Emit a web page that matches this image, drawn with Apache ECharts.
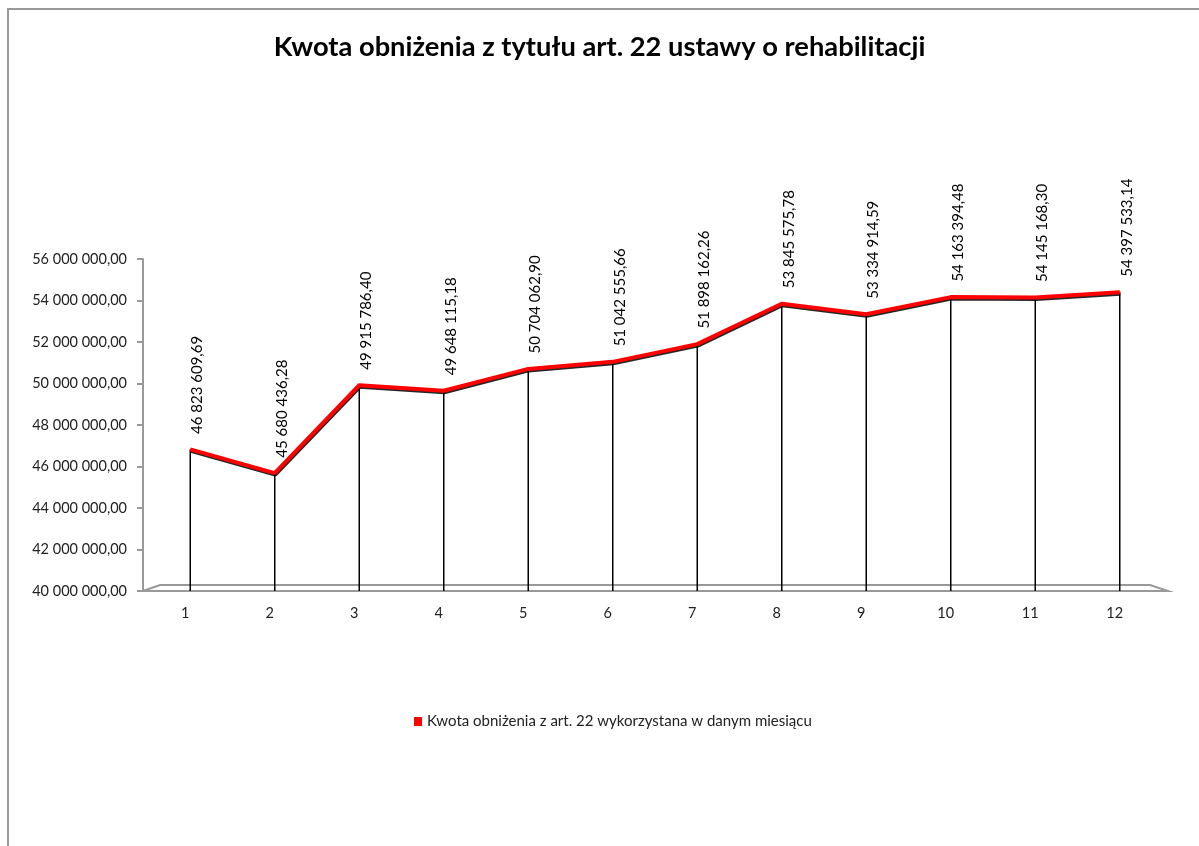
<!DOCTYPE html>
<html>
<head>
<meta charset="utf-8">
<script src="https://cdn.jsdelivr.net/npm/echarts@6/dist/echarts.min.js"></script>
<style>
  html, body { margin: 0; padding: 0; background: #fff; }
  #main { width: 1199px; height: 846px; }
</style>
</head>
<body>
<div id="main"></div>
<script>
// dane z wykresu
var months = ['1', '2', '3', '4', '5', '6', '7', '8', '9', '10', '11', '12'];
var kwoty = [46823609.69, 45680436.28, 49915786.40, 49648115.18, 50704062.90, 51042555.66,
  51898162.26, 53845575.78, 53334914.59, 54163394.48, 54145168.30, 54397533.14];
var seriesName = 'Kwota obniżenia z art. 22 wykorzystana w danym miesiącu';
var yMin = 40000000, yMax = 56000000, yStep = 2000000;

// 46 823 609,69
function fmt (v) {
  var parts = v.toFixed(2).split('.');
  return parts[0].replace(/\B(?=(\d{3})+(?!\d))/g, ' ') + ',' + parts[1];
}

var myChart = echarts.init(document.getElementById('main'));
var font = 'Lato, "Open Sans", sans-serif';

var option = {
  backgroundColor: '#fff',
  animation: false,
  textStyle: { fontFamily: font },
  title: {
    text: 'Kwota obniżenia z tytułu art. 22 ustawy o rehabilitacji',
    left: 'center',
    top: 29,
    textStyle: { fontFamily: font, fontSize: 27.3, fontWeight: 'bold', color: '#000' }
  },
  legend: {
    data: [{ name: seriesName, icon: 'rect' }],
    top: 709,
    left: 409,
    itemWidth: 8,
    itemHeight: 9,
    itemGap: 4,
    textStyle: { fontFamily: font, fontSize: 15, color: '#222' }
  },
  grid: { left: 148, right: 37, top: 259, bottom: 255 },
  xAxis: {
    type: 'category',
    data: months,
    boundaryGap: true,
    axisLine: { lineStyle: { color: '#999', width: 2 } },
    axisTick: { show: false },
    axisLabel: { fontSize: 14.5, color: '#222', margin: 15, padding: [0, 10, 0, 0] }
  },
  yAxis: {
    type: 'value',
    min: yMin,
    max: yMax,
    interval: yStep,
    offset: 5,
    axisLine: { show: true, lineStyle: { color: '#999', width: 2 } },
    axisTick: { show: true, length: 6, lineStyle: { color: '#999', width: 2 } },
    splitLine: { show: false },
    axisLabel: { fontSize: 14.5, color: '#222', margin: 16, formatter: function (v) { return fmt(v); } }
  },
  graphic: [
    // ramka wykresu
    {
      type: 'polyline',
      shape: { points: [[8, 846], [8, 9], [1199, 9]] },
      style: { stroke: '#999', lineWidth: 2, fill: null }
    },
    // podloga 3D
    {
      type: 'polyline',
      shape: { points: [[143, 591], [160, 585], [1150, 585], [1168, 591], [143, 591]] },
      style: { stroke: '#999', lineWidth: 2, fill: null },
      z: 1
    }
  ],
  series: [
    {
      // linie spadku do podlogi
      name: 'drop',
      type: 'bar',
      data: kwoty,
      barWidth: 1.5,
      itemStyle: { color: '#000' },
      silent: true,
      legendHoverLink: false
    },
    {
      name: seriesName,
      type: 'line',
      data: kwoty,
      symbol: 'circle',
      symbolSize: 1,
      showSymbol: true,
      itemStyle: { color: '#ff0000' },
      lineStyle: {
        color: '#ff0000',
        width: 4,
        shadowColor: 'rgba(0,0,0,0.85)',
        shadowBlur: 0,
        shadowOffsetX: 0.5,
        shadowOffsetY: 1.5
      },
      label: {
        show: true,
        position: 'top',
        distance: 15,
        rotate: 90,
        align: 'left',
        verticalAlign: 'middle',
        offset: [0, 7],
        fontSize: 15,
        color: '#000',
        formatter: function (p) { return fmt(p.value); }
      },
      z: 3
    }
  ]
};

myChart.setOption(option);
</script>
</body>
</html>
